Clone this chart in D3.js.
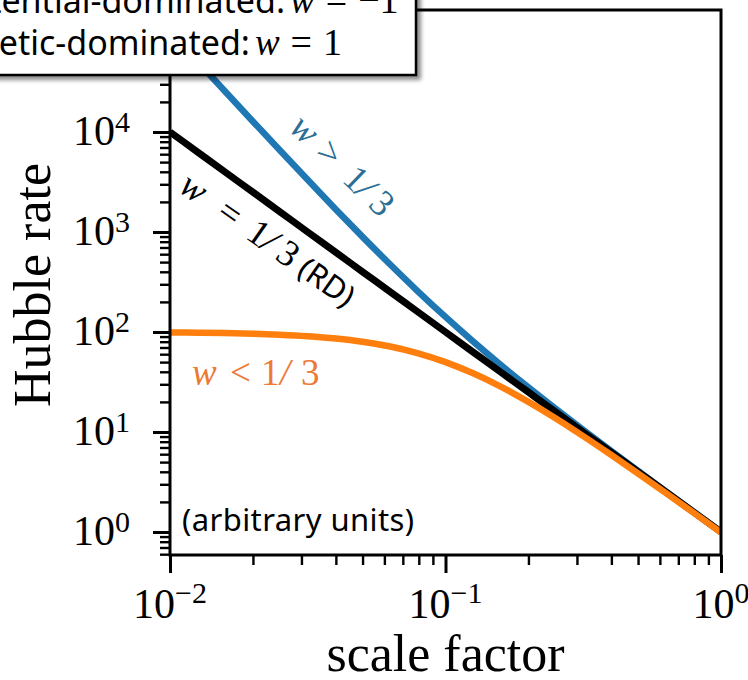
<!DOCTYPE html>
<html>
<head>
<meta charset="utf-8">
<script src="https://cdn.jsdelivr.net/npm/d3@7"></script>
<style>
  html, body { margin: 0; padding: 0; background: #fff; }
  svg { display: block; }
</style>
</head>
<body>
<div id="chart"></div>
<script>
// ---------------- data ----------------
const scaleFactor = [0.01, 0.0126, 0.0158, 0.02, 0.025, 0.0316, 0.04, 0.05, 0.063, 0.079,
                     0.1, 0.126, 0.158, 0.2, 0.25, 0.316, 0.4, 0.5, 0.63, 0.79, 1.0];
// w > 1/3 (blue)
const hubbleStiff = [100500, 50390, 25670, 12750, 6597, 3323, 1683, 894, 472.7, 258.4,
                     141.4, 80.4, 47.4, 27.95, 17.23, 10.5, 6.44, 4.08, 2.55, 1.615, 1.005];
// w = 1/3, radiation dominated (black)
const hubbleRad = [10000, 6299, 4006, 2500, 1600, 1001, 625, 400, 252, 160.2,
                   100, 62.99, 40.06, 25, 16, 10.01, 6.25, 4, 2.52, 1.602, 1.0];
// w < 1/3 (orange)
const hubbleSoft = [99.0, 98.4, 97.6, 96.2, 94.1, 90.9, 86.2, 80.0, 71.6, 61.6,
                    50.0, 38.6, 28.6, 20.0, 13.8, 9.09, 5.88, 3.85, 2.46, 1.58, 0.99];

const xMajorTicks = [0.01, 0.1, 1];
const yMajorTicks = [1, 10, 100, 1000, 10000, 100000];
const xDomain = [0.01, 1];
const yDomain = [Math.pow(10, -0.23), Math.pow(10, 5.22)];

const legendLines = [
  { text: "Potential-dominated:", rhs: "\u22121" },
  { text: "Kinetic-dominated:", rhs: "1" }
];

// ---------------- layout ----------------
const W = 748, H = 680;
const plot = { left: 170, right: 721, top: 10, bottom: 555 };
const SERIF = "'Liberation Serif', 'Times New Roman', serif";
const SANS = "'Noto Sans', 'Open Sans', sans-serif";

const svg = d3.select("#chart").append("svg")
  .attr("width", W).attr("height", H)
  .style("background", "#fff");

const defs = svg.append("defs");
defs.append("clipPath").attr("id", "plotclip")
  .append("rect")
  .attr("x", plot.left).attr("y", plot.top)
  .attr("width", plot.right - plot.left).attr("height", plot.bottom - plot.top);
const blur = defs.append("filter").attr("id", "shadowblur")
  .attr("x", "-10%").attr("y", "-10%").attr("width", "130%").attr("height", "140%");
blur.append("feGaussianBlur").attr("stdDeviation", 2.2);

const x = d3.scaleLog().domain(xDomain).range([plot.left, plot.right]);
const y = d3.scaleLog().domain(yDomain).range([plot.bottom, plot.top]);

const isPow10 = v => Math.abs(Math.log10(v) - Math.round(Math.log10(v))) < 1e-9;

// ---------------- curves ----------------
const series = [
  { values: hubbleStiff, color: "#1f77b4", width: 6.5 },
  { values: hubbleRad, color: "#000000", width: 7 },
  { values: hubbleSoft, color: "#ff7f0e", width: 6.5 }
];
const line = d3.line()
  .x(d => x(d[0])).y(d => y(d[1]))
  .curve(d3.curveMonotoneX);
const gLines = svg.append("g").attr("clip-path", "url(#plotclip)");
series.forEach(s => {
  gLines.append("path")
    .datum(scaleFactor.map((a, i) => [a, s.values[i]]))
    .attr("d", line)
    .attr("fill", "none")
    .attr("stroke", s.color)
    .attr("stroke-width", s.width)
    .attr("stroke-linejoin", "round");
});

// ---------------- axes ----------------
const xMinor = x.ticks().filter(v => !isPow10(v));
const yMinor = y.ticks().filter(v => !isPow10(v) && v > yDomain[0] && v < yDomain[1]);

const gx = svg.append("g").attr("transform", `translate(0,${plot.bottom})`);
gx.append("g").call(d3.axisBottom(x).tickValues(xMinor).tickSize(10).tickFormat(""))
  .call(g => g.select(".domain").remove())
  .call(g => g.selectAll("line").attr("stroke-width", 2.4));
gx.append("g").call(d3.axisBottom(x).tickValues(xMajorTicks).tickSize(18).tickFormat(""))
  .call(g => g.select(".domain").remove())
  .call(g => g.selectAll("line").attr("stroke-width", 3));

const gy = svg.append("g").attr("transform", `translate(${plot.left},0)`);
gy.append("g").call(d3.axisLeft(y).tickValues(yMinor).tickSize(10).tickFormat(""))
  .call(g => g.select(".domain").remove())
  .call(g => g.selectAll("line").attr("stroke-width", 2.4));
gy.append("g").call(d3.axisLeft(y).tickValues(yMajorTicks).tickSize(17).tickFormat(""))
  .call(g => g.select(".domain").remove())
  .call(g => g.selectAll("line").attr("stroke-width", 3));

// tick labels with superscripts
xMajorTicks.forEach(v => {
  const t = svg.append("text")
    .attr("x", x(v)).attr("y", 618)
    .attr("text-anchor", "middle")
    .attr("font-family", SERIF).attr("font-size", 42).attr("fill", "#000");
  t.append("tspan").text("10");
  t.append("tspan").attr("dy", -15).attr("font-size", 30)
    .text(String(Math.round(Math.log10(v))).replace("-", "\u2212"));
});
yMajorTicks.forEach(v => {
  const t = svg.append("text")
    .attr("x", plot.left - 40).attr("y", y(v) + 13)
    .attr("text-anchor", "end")
    .attr("font-family", SERIF).attr("font-size", 42).attr("fill", "#000");
  t.append("tspan").text("10");
  t.append("tspan").attr("dy", -13).attr("font-size", 30)
    .text(String(Math.round(Math.log10(v))));
});

// frame
svg.append("rect")
  .attr("x", plot.left).attr("y", plot.top)
  .attr("width", plot.right - plot.left).attr("height", plot.bottom - plot.top)
  .attr("fill", "none").attr("stroke", "#000").attr("stroke-width", 3);

// axis titles
svg.append("text")
  .attr("transform", `translate(50,285) rotate(-90)`)
  .attr("text-anchor", "middle")
  .attr("font-family", SERIF).attr("font-size", 52).attr("fill", "#000")
  .text("Hubble rate");
svg.append("text")
  .attr("x", (plot.left + plot.right) / 2).attr("y", 671)
  .attr("text-anchor", "middle")
  .attr("font-family", SERIF).attr("font-size", 52).attr("fill", "#000")
  .text("scale factor");

// ---------------- annotations ----------------
function glyphs(g, items, baseY, size, color) {
  items.forEach(it => {
    g.append("text")
      .attr("x", it.x).attr("y", baseY)
      .attr("font-family", it.sans ? SANS : SERIF)
      .attr("font-style", it.italic ? "italic" : "normal")
      .attr("font-size", it.size || size)
      .attr("fill", color)
      .text(it.t);
  });
}
// w > 1/3 along the blue curve
const gBlue = svg.append("g").attr("transform", "translate(302,132) rotate(44)");
glyphs(gBlue, [
  { t: "w", x: -12, italic: true, size: 37 }, { t: ">", x: 24 },
  { t: "1", x: 62 }, { t: "/", x: 80, italic: true }, { t: "3", x: 98 }
], 8, 37, "#2b6f94");
// w = 1/3 (RD) along the black curve
const gBlack = svg.append("g").attr("transform", "translate(192,190) rotate(35)");
glyphs(gBlack, [
  { t: "w", x: -12, italic: true, size: 37 }, { t: "=", x: 34 },
  { t: "1", x: 70 }, { t: "/", x: 88, italic: true }, { t: "3", x: 106 },
  { t: "(RD)", x: 133, sans: true, size: 31 }
], 9, 37, "#000");
// w < 1/3 near the orange curve
const gOr = svg.append("g").attr("transform", "translate(192,385)");
glyphs(gOr, [
  { t: "w", x: 0, italic: true, size: 37 }, { t: "<", x: 38 },
  { t: "1", x: 69 }, { t: "/", x: 88, italic: true }, { t: "3", x: 109 }
], 0, 37, "#ec7a36");

svg.append("text")
  .attr("x", 182).attr("y", 531)
  .attr("font-family", SANS).attr("font-size", 31).attr("fill", "#000")
  .attr("letter-spacing", 0.4)
  .text("(arbitrary units)");

// ---------------- legend (with shadow) ----------------
const lg = svg.append("g");
lg.append("rect")
  .attr("x", -20).attr("y", -20).attr("width", 436).attr("height", 95)
  .attr("transform", "translate(5,5)")
  .attr("fill", "#000").attr("opacity", 0.45)
  .attr("filter", "url(#shadowblur)");
lg.append("rect")
  .attr("x", -20).attr("y", -20).attr("width", 436).attr("height", 95)
  .attr("fill", "#fff").attr("stroke", "#000").attr("stroke-width", 2.5);
legendLines.forEach((d, i) => {
  const t = lg.append("text")
    .attr("x", -52).attr("y", 13 + i * 42)
    .attr("font-family", SANS).attr("font-size", 34).attr("fill", "#000");
  t.append("tspan").text(d.text);
  t.append("tspan").attr("dx", 5).attr("font-family", SERIF).attr("font-style", "italic")
    .attr("font-size", 37).text("w");
  t.append("tspan").attr("dx", 11).attr("font-family", SERIF).attr("font-size", 38).text("=");
  t.append("tspan").attr("dx", 11).attr("font-family", SERIF).attr("font-size", 38).text(d.rhs);
});
</script>
</body>
</html>
